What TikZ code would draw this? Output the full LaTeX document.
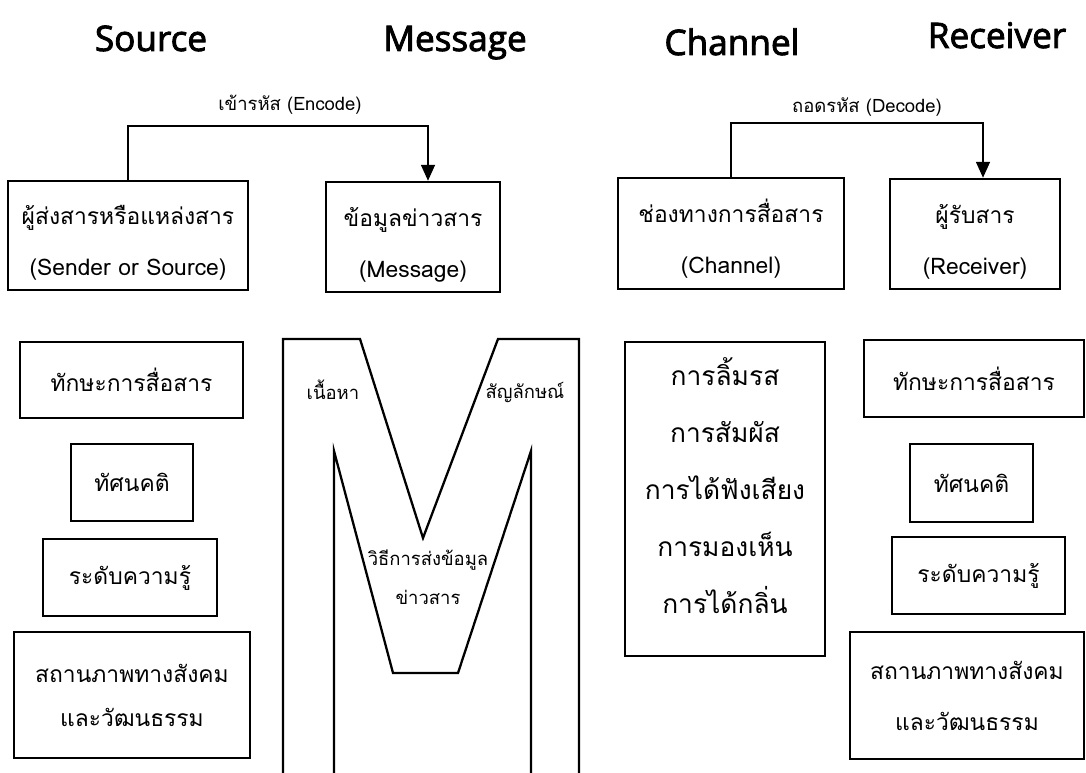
\documentclass[tikz,border=0pt]{standalone}
\usepackage{fontspec}
\setmainfont[Script=Thai]{Loma}
\newfontfamily\headfont[FakeBold=2.5]{Open Sans}
\usetikzlibrary{arrows.meta}
\tikzset{
  box/.style={draw, line width=1.5pt, inner sep=0pt, align=center,
    font=\fontsize{13}{29}\selectfont},
  toprow/.style={text height=48pt, text depth=2pt},
  head/.style={anchor=base, font=\headfont\fontsize{20}{24}\selectfont},
  note/.style={font=\fontsize{10.5}{22}\selectfont},
  link/.style={line width=0.6pt, -{Triangle[width=8pt,length=9pt]}},
  mline/.style={line width=1.3pt, line join=miter},
}
\begin{document}
\begin{tikzpicture}[x=0.02cm, y=-0.02cm]
  \useasboundingbox (0,0) rectangle (1086,773);
  % headings
  \node[head] (hsrc) at (151,51) {Source};
  \node[head] (hmsg) at (455,51) {Message};
  \node[head] (hchn) at (732,55) {Channel};
  \node[head] (hrcv) at (997,48) {Receiver};

  % top row
  \node[box, toprow, minimum width=4.8cm, minimum height=2.18cm] (sender) at (128,235.5)
    {ผู้ส่งสารหรือแหล่งสาร\\(Sender or Source)};
  \node[box, toprow, minimum width=3.48cm, minimum height=2.2cm] (message) at (413,237)
    {ข้อมูลข่าวสาร\\(Message)};
  \node[box, toprow, minimum width=4.52cm, minimum height=2.22cm] (channel) at (731,233.5)
    {ช่องทางการสื่อสาร\\(Channel)};
  \node[box, toprow, minimum width=3.4cm, minimum height=2.2cm] (receiver) at (975,234)
    {ผู้รับสาร\\(Receiver)};

  % encode / decode
  \coordinate (enc) at (428,126);
  \coordinate (dec) at (983,123);
  \node[note] (enclbl) at (290,105) {เข้ารหัส (Encode)};
  \node[note] (declbl) at (867,107) {ถอดรหัส (Decode)};
  \draw[link] (sender.north) |- (enc) -- (message.north -| enc);
  \draw[link] (channel.north) |- (dec) -- (receiver.north -| dec);

  % source side
  \node[box, minimum width=4.46cm, minimum height=1.52cm] (skillS) at (131.5,380) {ทักษะการสื่อสาร};
  \node[box, minimum width=2.44cm, minimum height=1.54cm] (attS) at (132,482.5) {ทัศนคติ};
  \node[box, minimum width=3.48cm, minimum height=1.54cm] (knowS) at (130,577.5) {ระดับความรู้};
  \node[box, minimum width=4.72cm, minimum height=2.52cm,
    font=\fontsize{13}{25}\selectfont] (socS) at (132,695) {สถานภาพทางสังคม\\และวัฒนธรรม};

  % message M
  \draw[mline] (283,775) -- (283,339) -- (360,339) -- (423,538) -- (498,339)
    -- (579,339) -- (579,775);
  \draw[mline] (334,775) -- (334,451) -- (393,673) -- (458,673) -- (531,451)
    -- (531,775);
  \node[note] (content) at (333,390) {เนื้อหา};
  \node[note] (symbol) at (525,393) {สัญลักษณ์};
  \node[note, align=center] (method) at (428,577) {วิธีการส่งข้อมูล\\ข่าวสาร};

  % channel senses
  \node[box, minimum width=4cm, minimum height=6.28cm, text height=142pt, text depth=12pt,
    font=\fontsize{15}{32.4}\selectfont] (senses) at (725,499)
    {การลิ้มรส\\การสัมผัส\\การได้ฟังเสียง\\การมองเห็น\\การได้กลิ่น};

  % receiver side
  \node[box, minimum width=4.4cm, minimum height=1.54cm] (skillR) at (974,378.5) {ทักษะการสื่อสาร};
  \node[box, minimum width=2.46cm, minimum height=1.56cm] (attR) at (971.5,483) {ทัศนคติ};
  \node[box, minimum width=3.46cm, minimum height=1.54cm] (knowR) at (978.5,575.5) {ระดับความรู้};
  \node[box, minimum width=4.68cm, minimum height=2.54cm,
    font=\fontsize{13}{29}\selectfont] (socR) at (967,695.5) {สถานภาพทางสังคม\\และวัฒนธรรม};
\end{tikzpicture}
\end{document}
